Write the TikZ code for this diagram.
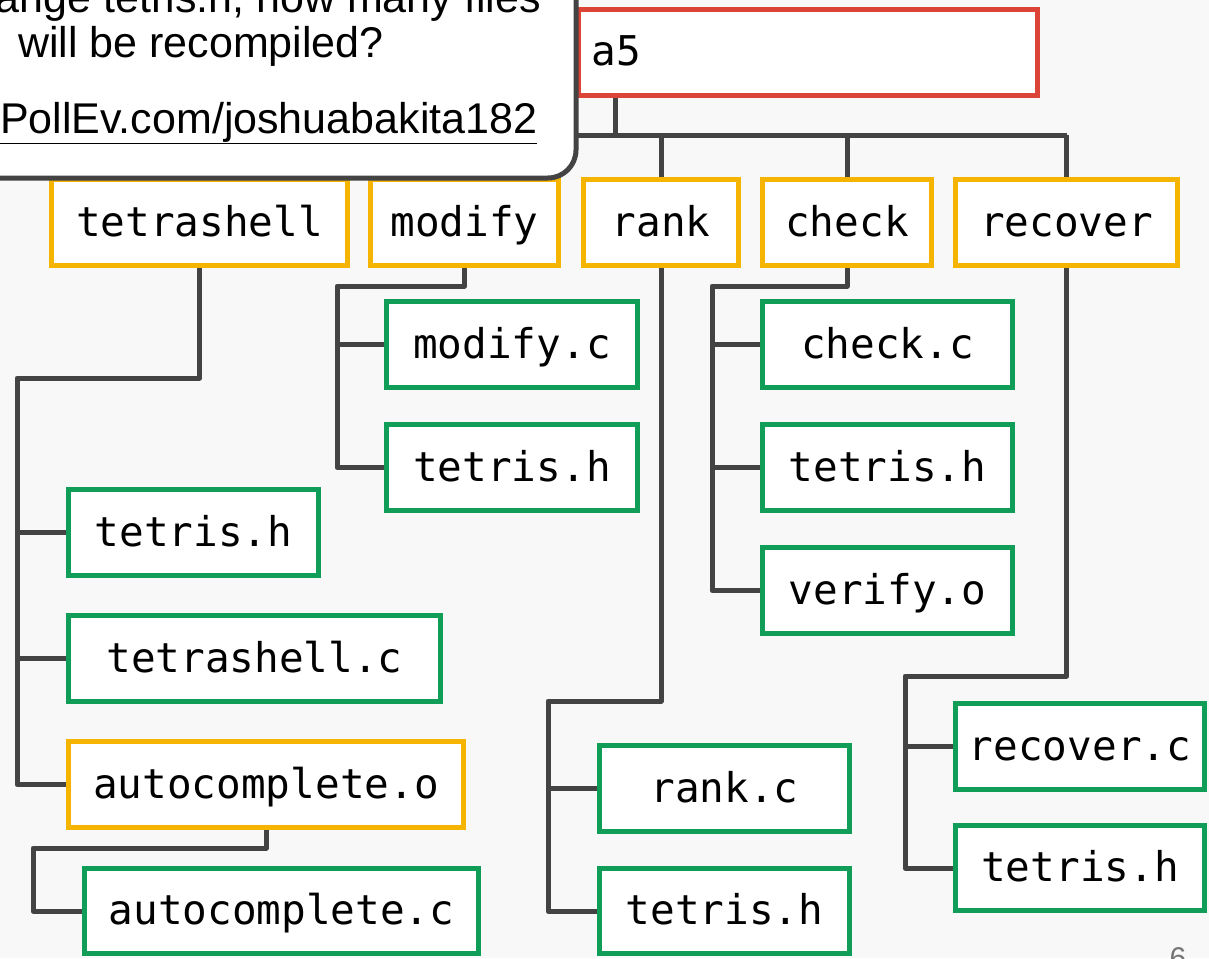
\documentclass[tikz,border=0pt]{standalone}
\usepackage{fontspec}
\setmainfont{Liberation Sans}
\setmonofont{DejaVu Sans Mono}
\definecolor{bg}{HTML}{F8F8F8}
\definecolor{rd}{HTML}{DB4437}
\definecolor{yl}{HTML}{F4B400}
\definecolor{gn}{HTML}{0F9D58}
\definecolor{ln}{HTML}{434343}
\definecolor{pg}{HTML}{757575}
\tikzset{
  box/.style={draw, fill=white, line width=5pt, minimum height=86pt, inner sep=0pt,
    text height=34pt, text depth=7pt,
    font=\fontsize{41}{41}\selectfont\ttfamily},
  ybox/.style={box, draw=yl},
  gbox/.style={box, draw=gn},
  rbox/.style={box, draw=rd},
  conn/.style={draw=ln, line width=5pt, line join=round},
  calltext/.style={font=\fontsize{43}{43}\selectfont, inner sep=0pt}
}
\begin{document}
\begin{tikzpicture}[x=1pt,y=-1pt]
\useasboundingbox (0,0) rectangle (1209,958);
\clip (0,0) rectangle (1209,958);
\fill[bg] (0,0) rectangle (1209,958);

% root
\node[rbox, minimum width=459pt, text width=433pt, align=left] (a5) at (808,52.5) {a5};
% level 1
\node[ybox, minimum width=296pt] (ts) at (199.5,222.5) {tetrashell};
\node[ybox, minimum width=188pt] (md) at (464.5,222.5) {modify};
\node[ybox, minimum width=155pt] (rk) at (661,222.5) {rank};
\node[ybox, minimum width=169pt] (ck) at (847,222.5) {check};
\node[ybox, minimum width=222pt] (rc) at (1066.5,222.5) {recover};
% modify children
\node[gbox, minimum width=251pt] (mdc) at (512,344.5) {modify.c};
\node[gbox, minimum width=251pt] (mdh) at (512,467.5) {tetris.h};
% check children
\node[gbox, minimum width=250pt] (ckc) at (887.5,344.5) {check.c};
\node[gbox, minimum width=250pt] (ckh) at (887.5,467.5) {tetris.h};
\node[gbox, minimum width=250pt] (cko) at (887.5,590.5) {verify.o};
% tetrashell children
\node[gbox, minimum width=250pt] (tsh) at (193.5,532.5) {tetris.h};
\node[gbox, minimum width=372pt] (tsc) at (254.5,658.5) {tetrashell.c};
\node[ybox, minimum width=395pt] (aco) at (266,784.5) {autocomplete.o};
\node[gbox, minimum width=394pt, minimum height=85pt] (acc) at (281.5,911) {autocomplete.c};
% rank children
\node[gbox, minimum width=250pt] (rkc) at (724.5,788.5) {rank.c};
\node[gbox, minimum width=250pt, minimum height=85pt] (rkh) at (724.5,911) {tetris.h};
% recover children
\node[gbox, minimum width=249pt] (rcc) at (1080,746.5) {recover.c};
\node[gbox, minimum width=249pt, minimum height=85pt] (rch) at (1080,868) {tetris.h};

% bus coordinates
\coordinate (rootbus) at (615,135);
\coordinate (tsbus) at (17,378);
\coordinate (acbus) at (33,848);
\coordinate (mdbus) at (337,286);
\coordinate (rkbus) at (548,701);
\coordinate (ckbus) at (712,286);
\coordinate (rcbus) at (905,676);

% root connectors
\draw[conn] (a5.south -| rootbus) -- (rootbus);
\draw[conn] (ts.north |- rootbus) -- (rc.north |- rootbus);
\foreach \n in {ts,md,rk,ck,rc} \draw[conn] (\n.north |- rootbus) -- (\n.north);

% tetrashell
\draw[conn] (ts.south) -- (ts.south |- tsbus) -- (tsbus) -- (tsbus |- aco.west) -- (aco.west);
\draw[conn] (tsbus |- tsh.west) -- (tsh.west);
\draw[conn] (tsbus |- tsc.west) -- (tsc.west);
% autocomplete
\draw[conn] (aco.south) -- (aco.south |- acbus) -- (acbus) -- (acbus |- acc.west) -- (acc.west);
% modify
\draw[conn] (md.south) -- (md.south |- mdbus) -- (mdbus) -- (mdbus |- mdh.west) -- (mdh.west);
\draw[conn] (mdbus |- mdc.west) -- (mdc.west);
% rank
\draw[conn] (rk.south) -- (rk.south |- rkbus) -- (rkbus) -- (rkbus |- rkh.west) -- (rkh.west);
\draw[conn] (rkbus |- rkc.west) -- (rkc.west);
% check
\draw[conn] (ck.south) -- (ck.south |- ckbus) -- (ckbus) -- (ckbus |- cko.west) -- (cko.west);
\draw[conn] (ckbus |- ckc.west) -- (ckc.west);
\draw[conn] (ckbus |- ckh.west) -- (ckh.west);
% recover
\draw[conn] (rc.south) -- (rc.south |- rcbus) -- (rcbus) -- (rcbus |- rch.west) -- (rch.west);
\draw[conn] (rcbus |- rcc.west) -- (rcc.west);

% callout
\draw[draw=ln, fill=white, line width=5pt] (-10,-10) -- (576,-10) -- (576,150) arc[start angle=0, end angle=90, radius=28] -- (-10,178) -- cycle;
\node[calltext, anchor=base east] (q1) at (541,13) {ange tetris.h, how many files};
\node[calltext, anchor=base] (q2) at (201,58) {will be recompiled?};
\node[calltext, anchor=base west] (url) at (0,133) {\underline{PollEv.com/joshuabakita182}};

% page number
\node[font=\fontsize{30}{30}\selectfont, text=pg, anchor=base, inner sep=0pt] (pnum) at (1178,968) {6};
\end{tikzpicture}
\end{document}
